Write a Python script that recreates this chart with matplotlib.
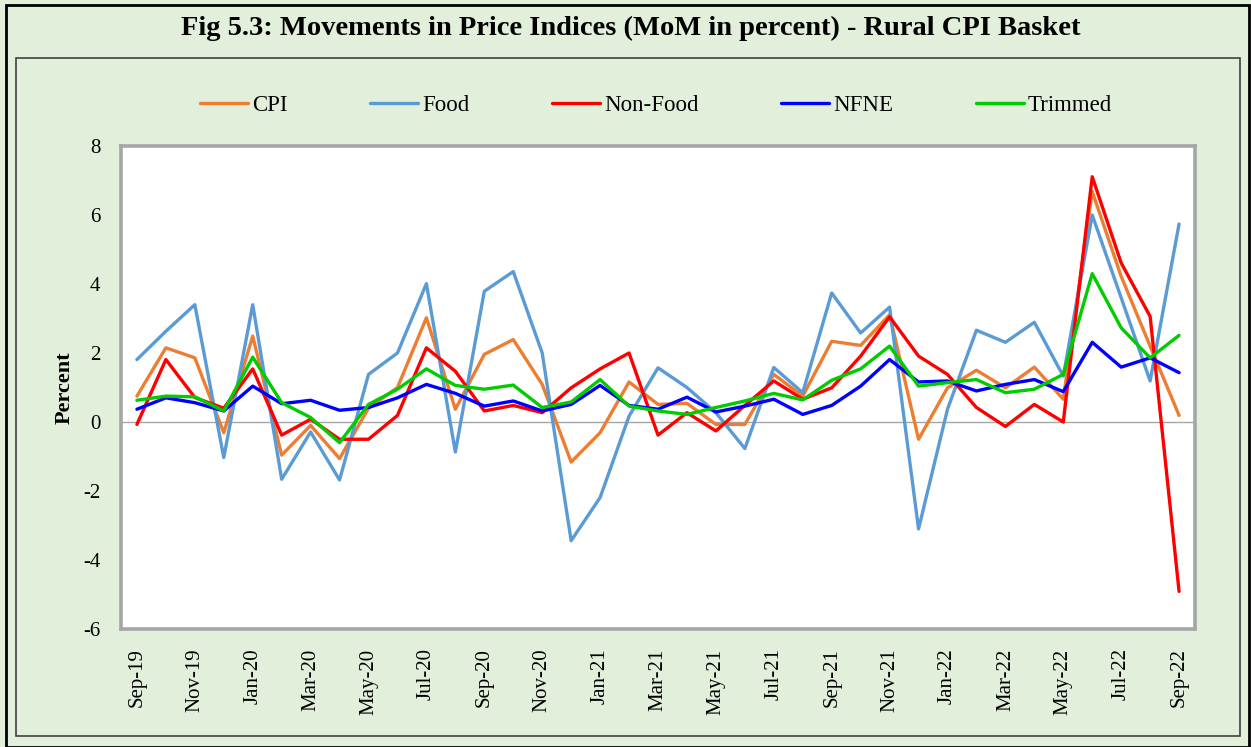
# ==========================================
# 1. IMPORT LIBRARY
# ==========================================
import matplotlib
matplotlib.use("Agg")
import matplotlib.pyplot as plt
from matplotlib.patches import Rectangle

plt.rcParams['font.family'] = ['Liberation Serif', 'DejaVu Serif']

# ==========================================
# 2. DATA (MoM percent, Rural CPI basket)
# ==========================================
months = ['Sep-19', 'Oct-19', 'Nov-19', 'Dec-19', 'Jan-20', 'Feb-20', 'Mar-20', 'Apr-20',
          'May-20', 'Jun-20', 'Jul-20', 'Aug-20', 'Sep-20', 'Oct-20', 'Nov-20', 'Dec-20',
          'Jan-21', 'Feb-21', 'Mar-21', 'Apr-21', 'May-21', 'Jun-21', 'Jul-21', 'Aug-21',
          'Sep-21', 'Oct-21', 'Nov-21', 'Dec-21', 'Jan-22', 'Feb-22', 'Mar-22', 'Apr-22',
          'May-22', 'Jun-22', 'Jul-22', 'Aug-22', 'Sep-22']

cpi = [0.75, 2.15, 1.86, -0.31, 2.49, -0.96, -0.10, -1.06, 0.40, 1.00, 3.02, 0.37,
       1.96, 2.39, 1.09, -1.16, -0.31, 1.16, 0.51, 0.54, -0.07, -0.07, 1.38, 0.75,
       2.34, 2.22, 3.11, -0.50, 0.99, 1.50, 0.99, 1.59, 0.66, 6.68, 4.22, 2.20, 0.19]

food = [1.81, 2.63, 3.40, -1.03, 3.40, -1.66, -0.29, -1.68, 1.38, 2.00, 4.01, -0.87,
        3.79, 4.36, 2.00, -3.44, -2.19, 0.17, 1.57, 1.00, 0.27, -0.77, 1.58, 0.85,
        3.74, 2.58, 3.33, -3.10, 0.37, 2.66, 2.31, 2.89, 1.33, 6.00, 3.60, 1.19, 5.74]

non_food = [-0.07, 1.81, 0.71, 0.40, 1.54, -0.38, 0.08, -0.50, -0.50, 0.19, 2.15, 1.47,
            0.32, 0.48, 0.27, 0.99, 1.54, 2.00, -0.38, 0.27, -0.26, 0.48, 1.19, 0.66,
            0.99, 1.91, 3.05, 1.91, 1.38, 0.42, -0.13, 0.51, 0.00, 7.11, 4.61, 3.06, -4.91]

nfne = [0.37, 0.70, 0.56, 0.32, 1.04, 0.53, 0.63, 0.34, 0.42, 0.70, 1.09, 0.83,
        0.46, 0.61, 0.32, 0.51, 1.06, 0.48, 0.37, 0.72, 0.29, 0.46, 0.66, 0.22,
        0.48, 1.04, 1.81, 1.16, 1.19, 0.90, 1.09, 1.23, 0.88, 2.31, 1.59, 1.86, 1.43]

trimmed = [0.63, 0.75, 0.73, 0.32, 1.88, 0.56, 0.13, -0.60, 0.51, 0.95, 1.54, 1.06,
           0.95, 1.07, 0.42, 0.58, 1.23, 0.46, 0.32, 0.22, 0.42, 0.61, 0.83, 0.64,
           1.21, 1.54, 2.20, 1.04, 1.14, 1.23, 0.85, 0.95, 1.38, 4.30, 2.73, 1.86, 2.51]

y_ticks = [-6, -4, -2, 0, 2, 4, 6, 8]

# ==========================================
# 3. FIGURE & FRAMES
# ==========================================
bg = '#E2EFDA'
fig = plt.figure(figsize=(12.51, 7.47), dpi=100, facecolor=bg)

# outer black border and inner chart frame
fig.patches.append(Rectangle((6 / 1251, 0.0), 1243 / 1251, 1 - 5 / 747, transform=fig.transFigure,
                             fill=False, edgecolor='black', linewidth=2.0, zorder=0))
fig.patches.append(Rectangle((16 / 1251, 1 - 736 / 747), 1224 / 1251, 678 / 747,
                             transform=fig.transFigure, fill=False, edgecolor='#404040',
                             linewidth=1.2, zorder=0))

fig.text(631 / 1251, 1 - 28 / 747,
         'Fig 5.3: Movements in Price Indices (MoM in percent) - Rural CPI Basket',
         ha='center', va='center', fontsize=20.5, fontweight='bold')

ax = fig.add_axes([121 / 1251, 1 - 629 / 747, 1074 / 1251, 483 / 747])
ax.set_facecolor('white')

# ==========================================
# 4. LINES
# ==========================================
x = list(range(len(months)))
series = [('CPI', cpi, '#ED7D31'),
          ('Food', food, '#5B9BD5'),
          ('Non-Food', non_food, '#FF0000'),
          ('NFNE', nfne, '#0000FF'),
          ('Trimmed', trimmed, '#00CC00')]

ax.axhline(0, color='#A6A6A6', linewidth=1.0, zorder=1)
for name, vals, col in series:
    ax.plot(x, vals, color=col, linewidth=2.4, label=name,
            solid_joinstyle='round', solid_capstyle='round', zorder=2)

ax.set_xlim(-0.55, len(months) - 0.45)
ax.set_ylim(-6, 8)
ax.set_yticks(y_ticks)
ax.set_yticklabels([str(v) for v in y_ticks], fontsize=15)
ax.set_xticks(x[::2])
ax.set_xticklabels(months[::2], rotation=90, fontsize=15)
ax.tick_params(axis='both', length=0)
ax.tick_params(axis='y', pad=15)
ax.tick_params(axis='x', pad=14)

for s in ax.spines.values():
    s.set_color('#A6A6A6')
    s.set_linewidth(2.6)

fig.text(65 / 1251, 1 - 388 / 747, 'Percent', rotation=90, ha='center', va='center',
         fontsize=16, fontweight='bold')

# ==========================================
# 5. LEGEND
# ==========================================
fig.legend(loc='center', bbox_to_anchor=(656 / 1251, 1 - 105 / 747), ncol=5,
           frameon=False, fontsize=16.5, handlelength=2.1, handletextpad=0.18,
           columnspacing=3.6)

plt.savefig('out.png', dpi=100, facecolor=bg)
